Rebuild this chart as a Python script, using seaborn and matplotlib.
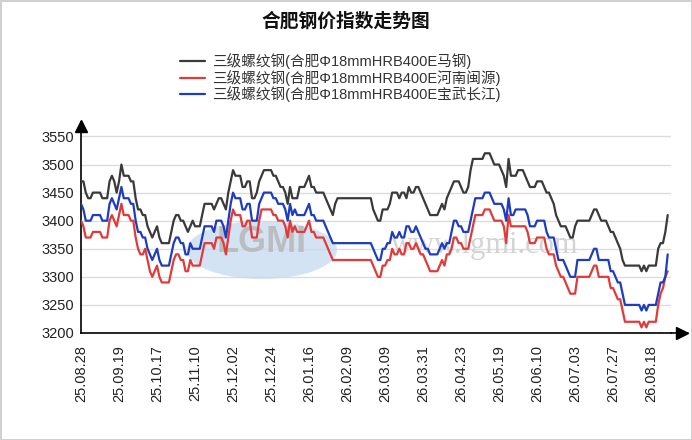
import numpy as np
import pandas as pd
import matplotlib
matplotlib.use("Agg")
import matplotlib.pyplot as plt
import seaborn as sns
from matplotlib.patches import Ellipse

# Index-Werte je Handelstag
black = [
    3470, 3470, 3450, 3440, 3440, 3450, 3450, 3450, 3450, 3440, 3440, 3440, 3470, 3480, 3470, 3450,
    3470, 3500, 3480, 3480, 3480, 3470, 3470, 3440, 3420, 3420, 3410, 3410, 3390, 3380, 3370, 3380,
    3390, 3370, 3360, 3360, 3360, 3360, 3380, 3400, 3410, 3410, 3400, 3400, 3390, 3380, 3390, 3400,
    3390, 3390, 3390, 3410, 3430, 3430, 3430, 3430, 3420, 3430, 3440, 3440, 3430, 3420, 3450, 3470,
    3490, 3480, 3480, 3480, 3460, 3460, 3470, 3470, 3440, 3440, 3450, 3470, 3480, 3490, 3490, 3490,
    3490, 3480, 3480, 3470, 3460, 3460, 3450, 3430, 3460, 3440, 3440, 3440, 3460, 3460, 3460, 3470,
    3480, 3460, 3460, 3450, 3450, 3450, 3450, 3440, 3430, 3420, 3410, 3430, 3440, 3440, 3440, 3440,
    3440, 3440, 3440, 3440, 3440, 3440, 3440, 3440, 3440, 3440, 3440, 3420, 3410, 3400, 3400, 3420,
    3420, 3420, 3430, 3450, 3450, 3450, 3440, 3450, 3450, 3440, 3460, 3450, 3450, 3460, 3460, 3450,
    3440, 3430, 3420, 3410, 3410, 3410, 3410, 3420, 3430, 3420, 3440, 3450, 3460, 3470, 3470, 3470,
    3460, 3450, 3450, 3460, 3490, 3510, 3510, 3510, 3510, 3510, 3520, 3520, 3520, 3510, 3500, 3500,
    3500, 3490, 3480, 3460, 3510, 3480, 3480, 3480, 3490, 3490, 3490, 3480, 3470, 3460, 3460, 3460,
    3470, 3470, 3470, 3460, 3450, 3450, 3440, 3430, 3410, 3400, 3390, 3390, 3390, 3380, 3370, 3370,
    3390, 3400, 3400, 3400, 3400, 3400, 3400, 3410, 3420, 3420, 3410, 3400, 3400, 3400, 3390, 3380,
    3380, 3370, 3360, 3350, 3330, 3320, 3320, 3320, 3320, 3320, 3320, 3320, 3310, 3320, 3310, 3320,
    3320, 3320, 3320, 3350, 3360, 3360, 3380, 3410,
]
red = [
    3400, 3390, 3370, 3370, 3370, 3380, 3380, 3380, 3380, 3370, 3370, 3370, 3400, 3410, 3400, 3390,
    3410, 3430, 3410, 3410, 3410, 3400, 3400, 3370, 3350, 3340, 3340, 3350, 3330, 3310, 3300, 3310,
    3320, 3300, 3290, 3290, 3290, 3290, 3310, 3330, 3340, 3340, 3330, 3330, 3310, 3310, 3330, 3320,
    3320, 3320, 3320, 3340, 3360, 3360, 3360, 3360, 3350, 3370, 3370, 3370, 3360, 3340, 3370, 3400,
    3420, 3410, 3410, 3410, 3390, 3390, 3400, 3400, 3370, 3370, 3370, 3400, 3420, 3420, 3420, 3420,
    3420, 3410, 3410, 3400, 3400, 3400, 3390, 3370, 3400, 3380, 3390, 3380, 3380, 3380, 3380, 3390,
    3400, 3380, 3380, 3370, 3370, 3370, 3370, 3360, 3350, 3340, 3330, 3330, 3330, 3330, 3330, 3330,
    3330, 3330, 3330, 3330, 3330, 3330, 3330, 3330, 3330, 3330, 3330, 3320, 3310, 3300, 3300, 3320,
    3320, 3330, 3330, 3350, 3340, 3340, 3350, 3340, 3340, 3360, 3360, 3350, 3350, 3360, 3350, 3340,
    3340, 3330, 3320, 3310, 3310, 3310, 3310, 3320, 3330, 3320, 3340, 3340, 3350, 3370, 3370, 3360,
    3360, 3350, 3350, 3350, 3370, 3390, 3410, 3410, 3410, 3410, 3420, 3420, 3420, 3410, 3400, 3400,
    3400, 3400, 3390, 3360, 3410, 3390, 3390, 3390, 3390, 3390, 3390, 3390, 3380, 3360, 3360, 3360,
    3370, 3370, 3370, 3370, 3350, 3340, 3340, 3340, 3320, 3310, 3300, 3300, 3290, 3280, 3270, 3270,
    3270, 3300, 3300, 3300, 3300, 3300, 3300, 3310, 3320, 3320, 3300, 3300, 3300, 3300, 3300, 3280,
    3280, 3270, 3260, 3260, 3240, 3220, 3220, 3220, 3220, 3220, 3220, 3220, 3210, 3220, 3210, 3220,
    3220, 3220, 3220, 3250, 3270, 3280, 3300, 3310,
]
blue = [
    3430, 3420, 3400, 3400, 3400, 3410, 3410, 3410, 3410, 3400, 3400, 3400, 3430, 3440, 3430, 3420,
    3440, 3460, 3440, 3440, 3440, 3430, 3430, 3400, 3380, 3380, 3370, 3370, 3350, 3340, 3330, 3340,
    3350, 3330, 3320, 3320, 3320, 3320, 3340, 3360, 3370, 3370, 3360, 3360, 3340, 3340, 3360, 3350,
    3350, 3350, 3350, 3370, 3390, 3390, 3390, 3390, 3380, 3400, 3400, 3400, 3390, 3370, 3400, 3430,
    3450, 3440, 3440, 3440, 3420, 3420, 3430, 3430, 3400, 3400, 3400, 3430, 3440, 3450, 3450, 3450,
    3450, 3440, 3440, 3430, 3430, 3430, 3420, 3400, 3430, 3410, 3420, 3410, 3410, 3410, 3410, 3420,
    3430, 3410, 3410, 3400, 3400, 3400, 3400, 3390, 3380, 3370, 3360, 3360, 3360, 3360, 3360, 3360,
    3360, 3360, 3360, 3360, 3360, 3360, 3360, 3360, 3360, 3360, 3360, 3350, 3340, 3330, 3330, 3350,
    3350, 3360, 3360, 3380, 3370, 3370, 3380, 3370, 3370, 3390, 3390, 3380, 3380, 3390, 3380, 3370,
    3360, 3350, 3350, 3340, 3340, 3340, 3340, 3350, 3360, 3350, 3360, 3360, 3380, 3400, 3400, 3390,
    3390, 3380, 3380, 3380, 3400, 3420, 3440, 3440, 3440, 3440, 3450, 3450, 3450, 3440, 3430, 3430,
    3430, 3430, 3420, 3400, 3440, 3410, 3410, 3420, 3420, 3420, 3420, 3420, 3410, 3390, 3390, 3390,
    3400, 3400, 3400, 3400, 3380, 3370, 3370, 3370, 3350, 3330, 3330, 3330, 3320, 3310, 3300, 3300,
    3300, 3330, 3330, 3330, 3330, 3330, 3330, 3340, 3350, 3350, 3330, 3330, 3330, 3330, 3330, 3310,
    3310, 3300, 3290, 3290, 3270, 3250, 3250, 3250, 3250, 3250, 3250, 3250, 3240, 3250, 3240, 3250,
    3250, 3250, 3250, 3270, 3290, 3290, 3300, 3340,
]

series_names = [
    "三级螺纹钢(合肥Φ18mmHRB400E马钢)",
    "三级螺纹钢(合肥Φ18mmHRB400E河南闽源)",
    "三级螺纹钢(合肥Φ18mmHRB400E宝武长江)",
]
colors = ["#3a3a3a", "#e03a3a", "#1e3cbe"]

tick_pos = [0, 16, 32, 48, 64, 80, 96, 112, 128, 144, 160, 176, 192, 208, 224, 240]
tick_labels = ["25.08.28", "25.09.19", "25.10.17", "25.11.10", "25.12.02", "25.12.24",
               "26.01.16", "26.02.09", "26.03.09", "26.03.31", "26.04.23", "26.05.19",
               "26.06.10", "26.07.03", "26.07.27", "26.08.18"]
y_ticks = [3200, 3250, 3300, 3350, 3400, 3450, 3500, 3550]

sns.set_style("white")
plt.rcParams["font.family"] = ["Liberation Sans", "Noto Sans CJK SC", "DejaVu Sans"]

fig = plt.figure(figsize=(6.92, 4.40), dpi=100)
fig.patch.set_edgecolor("#d0d0d0")
fig.patch.set_linewidth(2)
ax = fig.add_axes([0.1171, 0.2432, 0.8526, 0.4786])

# Wasserzeichen
ax.add_patch(Ellipse((262 / 692, 1 - 250 / 440), 150 / 692, 58 / 440, transform=fig.transFigure,
                     facecolor="#c6daef", edgecolor="none", alpha=0.75, zorder=1, clip_on=False))
ax.text(262 / 692, 1 - 242 / 440, "LGMI", transform=fig.transFigure, ha="center", va="center",
        fontsize=26, fontweight="bold", color="#b5b5b5", alpha=0.8, zorder=1)
ax.text(485 / 692, 1 - 245 / 440, "www.lgmi.com", transform=fig.transFigure, ha="center",
        va="center", fontsize=22, family="Liberation Serif", color="#d4d4d4", zorder=1)

for vals, name, col in zip([black, red, blue], series_names, colors):
    sns.lineplot(x=np.arange(len(vals)), y=vals, color=col, linewidth=1.6, label=name,
                 ax=ax, zorder=3, legend=False)

ax.set_xlim(0, 248.4)
ax.set_ylim(3200, 3575)
ax.set_yticks(y_ticks)
ax.set_yticklabels([str(v) for v in y_ticks], fontsize=10.5, color="#222222")
ax.set_xticks(tick_pos)
ax.set_xticklabels(tick_labels, rotation=90, fontsize=10.5, color="#222222")
ax.tick_params(axis="both", length=3, width=1, color="black", direction="out", pad=2)
ax.tick_params(axis="x", pad=6)
ax.yaxis.grid(True, color="#dcdcdc", linewidth=1)
ax.xaxis.grid(False)
ax.set_xlabel("")
ax.set_ylabel("")
for s in ["top", "right"]:
    ax.spines[s].set_visible(False)
for s in ["left", "bottom"]:
    ax.spines[s].set_color("black")
    ax.spines[s].set_linewidth(1.2)

# Pfeile an den Achsen
ax.plot([1.0, 1.028], [0, 0], transform=ax.transAxes, color="black", lw=1.2, clip_on=False)
ax.plot([1.019], [0], marker=">", markersize=8, color="black", transform=ax.transAxes, clip_on=False)
ax.plot([0], [0.985], marker="^", markersize=8, color="black", transform=ax.transAxes, clip_on=False)

fig.text(346 / 692, 1 - 22 / 440, "合肥钢价指数走势图", ha="center", va="center",
         fontsize=13.5, fontweight="bold", color="#111111")

handles, labels = ax.get_legend_handles_labels()
fig.legend(handles, labels, loc="upper left", bbox_to_anchor=(180 / 692, 1 - 53 / 440),
           frameon=False, fontsize=10.5, handlelength=1.7, handletextpad=0.5,
           labelspacing=0.05, borderpad=0, borderaxespad=0, labelcolor="#333333")

fig.savefig("out.png", dpi=100)
